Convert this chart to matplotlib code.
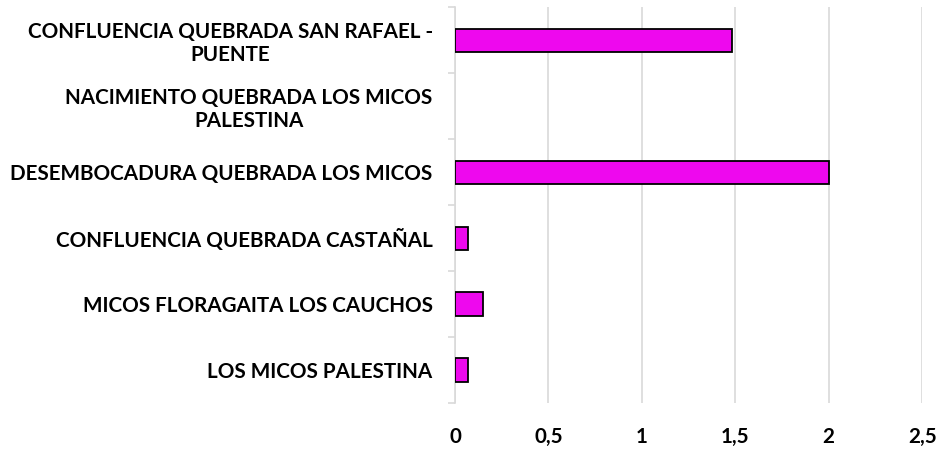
import matplotlib.pyplot as plt
import numpy as np

# Data (bottom to top)
categories = [
    "LOS MICOS PALESTINA",
    "MICOS FLORAGAITA LOS CAUCHOS",
    "CONFLUENCIA QUEBRADA CASTAÑAL",
    "DESEMBOCADURA QUEBRADA LOS MICOS",
    "NACIMIENTO QUEBRADA LOS MICOS\nPALESTINA",
    "CONFLUENCIA QUEBRADA SAN RAFAEL -\nPUENTE",
]
values = [0.07, 0.15, 0.07, 2.0, 0.0, 1.48]
x_ticks = [0, 0.5, 1, 1.5, 2, 2.5]
x_labels = ["0", "0,5", "1", "1,5", "2", "2,5"]

plt.rcParams['font.family'] = ['Lato', 'DejaVu Sans']

fig = plt.figure(figsize=(9.4, 4.49), dpi=100)
ax = fig.add_axes([0.484, 0.1025, 0.497, 0.8815])

ind = np.arange(len(categories))
# no outline on empty bars
widths = [1.3 if v > 0 else 0 for v in values]
ax.barh(ind, values, height=0.35, color="#EE08EE", edgecolor="black", linewidth=widths, zorder=3)

ax.set_xlim(0, 2.5)
ax.set_ylim(-0.5, len(categories) - 0.5)
ax.set_xticks(x_ticks, labels=x_labels)
ax.set_yticks(ind, labels=categories)
ax.set_yticks(np.arange(-0.5, len(categories)), minor=True)

ax.grid(axis="x", color="#D9D9D9", linewidth=1.2, zorder=0)
for side in ["top", "right", "bottom"]:
    ax.spines[side].set_visible(False)
ax.spines["left"].set_color("#D9D9D9")
ax.spines["left"].set_linewidth(1.2)

ax.tick_params(axis="x", length=0, pad=17, labelsize=14.9)
ax.tick_params(axis="y", which="major", length=0, pad=16, labelsize=14.9)
ax.tick_params(axis="y", which="minor", length=5, color="#D9D9D9", width=1.2)
for lbl in ax.get_xticklabels() + ax.get_yticklabels():
    lbl.set_fontweight("bold")
for lbl in ax.get_yticklabels():
    lbl.set_multialignment("center")

plt.savefig("out.png", dpi=100)
